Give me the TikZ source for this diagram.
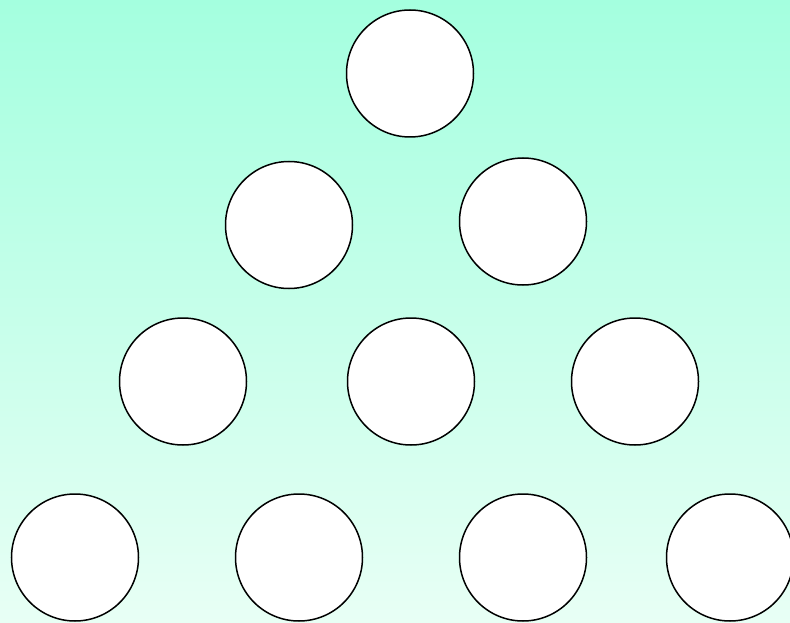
\documentclass[tikz,border=0pt]{standalone}
\begin{document}
\begin{tikzpicture}[x=1pt,y=-1pt,
  ball/.style={circle,draw=black,fill=white,line width=1.5pt,minimum size=127pt,inner sep=0pt}]
\definecolor{topc}{HTML}{A4FFDF}
\definecolor{botc}{HTML}{E8FFF5}
\useasboundingbox (0,0) rectangle (790,623);
\clip (0,0) rectangle (790,623);
\shade[top color=topc,bottom color=botc] (0,0) rectangle (790,623);
\node[ball] (a1) at (410,73.5) {};
\node[ball] (b1) at (289,225) {};
\node[ball] (b2) at (523,221.5) {};
\node[ball] (c1) at (183,381.5) {};
\node[ball] (c2) at (411,381.5) {};
\node[ball] (c3) at (635,381.5) {};
\node[ball] (d1) at (75,557.5) {};
\node[ball] (d2) at (299,557.5) {};
\node[ball] (d3) at (523,557.5) {};
\node[ball] (d4) at (730,557.5) {};
\end{tikzpicture}
\end{document}
